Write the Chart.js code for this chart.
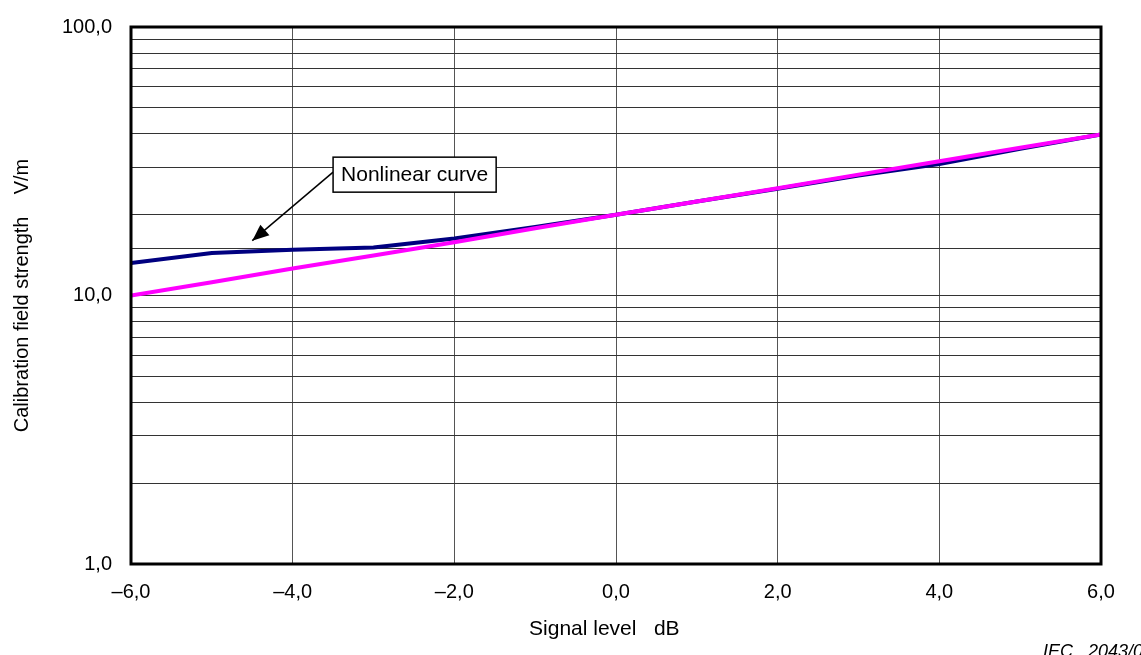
<!DOCTYPE html>
<html>
<head>
<meta charset="utf-8">
<script src="https://cdn.jsdelivr.net/npm/chart.js@4/dist/chart.umd.min.js"></script>
<style>
  html, body { margin: 0; padding: 0; background: #fff; }
  #wrap { width: 1141px; height: 655px; position: relative; }
</style>
</head>
<body>
<div id="wrap"><canvas id="calChart"></canvas></div>
<script>
// signal level (dB)
const signalLevels = [-6, -5, -4, -3, -2, -1, 0, 1, 2, 3, 4, 5, 6];
// measured (nonlinear) calibration field strength, V/m
const nonlinearValues = [13.2, 14.4, 14.8, 15.1, 16.3, 18.0, 20.0, 22.4, 25.0, 28.0, 30.9, 35.2, 39.8];
// ideal linear response, V/m
const linearValues = [10.0, 11.2, 12.6, 14.1, 15.8, 17.8, 20.0, 22.4, 25.1, 28.2, 31.6, 35.5, 39.8];
// labelled y ticks
const yTickLabels = [1, 10, 100];

// annotation: label box anchor and arrow tip (data coordinates)
const noteText = 'Nonlinear curve';
const noteLineStart = { x: -3.5, y: 28.8 };
const noteArrowTip = { x: -4.5, y: 16.0 };

function fmt(v) {
    return v.toFixed(1).replace('.', ',').replace('-', '\u2013');
}

const frameAndNotes = {
    id: 'frameAndNotes',
    afterDraw(chart) {
        const { ctx, chartArea: a, scales } = chart;
        ctx.save();
        // plot frame
        ctx.strokeStyle = '#000';
        ctx.lineWidth = 3;
        ctx.strokeRect(a.left, a.top, a.right - a.left, a.bottom - a.top);

        // annotation arrow
        const x0 = scales.x.getPixelForValue(noteLineStart.x);
        const y0 = scales.y.getPixelForValue(noteLineStart.y);
        const x1 = scales.x.getPixelForValue(noteArrowTip.x);
        const y1 = scales.y.getPixelForValue(noteArrowTip.y);
        ctx.lineWidth = 1.5;
        ctx.beginPath();
        ctx.moveTo(x0, y0);
        ctx.lineTo(x1, y1);
        ctx.stroke();
        const ang = Math.atan2(y1 - y0, x1 - x0);
        const len = 18, half = 0.4;
        ctx.fillStyle = '#000';
        ctx.beginPath();
        ctx.moveTo(x1, y1);
        ctx.lineTo(x1 - len * Math.cos(ang - half), y1 - len * Math.sin(ang - half));
        ctx.lineTo(x1 - len * Math.cos(ang + half), y1 - len * Math.sin(ang + half));
        ctx.closePath();
        ctx.fill();

        // annotation label box
        ctx.font = '21px "Liberation Sans", Arial, sans-serif';
        const tw = ctx.measureText(noteText).width;
        const bx = x0, bh = 35, by = y0 - 15;
        ctx.fillStyle = '#fff';
        ctx.fillRect(bx, by, tw + 16, bh);
        ctx.lineWidth = 1.5;
        ctx.strokeRect(bx, by, tw + 16, bh);
        ctx.fillStyle = '#000';
        ctx.textBaseline = 'middle';
        ctx.fillText(noteText, bx + 8, by + bh / 2 + 1);

        // figure reference
        ctx.font = 'italic 18px "Liberation Sans", Arial, sans-serif';
        ctx.textBaseline = 'alphabetic';
        ctx.fillText('IEC   2043/07', 1043, 657);
        ctx.restore();
    }
};

const ctxCal = document.getElementById('calChart').getContext('2d');
new Chart(ctxCal, {
    type: 'line',
    data: {
        labels: signalLevels,
        datasets: [{
            label: 'Linear',
            data: signalLevels.map((x, i) => ({ x: x, y: linearValues[i] })),
            borderColor: '#ff00ff',
            borderWidth: 4,
            pointRadius: 0,
            tension: 0,
            order: 0
        }, {
            label: 'Nonlinear curve',
            data: signalLevels.map((x, i) => ({ x: x, y: nonlinearValues[i] })),
            borderColor: '#000080',
            borderWidth: 4,
            pointRadius: 0,
            tension: 0,
            order: 1
        }]
    },
    options: {
        responsive: true,
        maintainAspectRatio: false,
        animation: false,
        layout: { autoPadding: false, padding: { top: 27, right: 40, left: 0, bottom: 0 } },
        scales: {
            x: {
                type: 'linear',
                min: -6,
                max: 6,
                afterFit: function (scale) { scale.height = 91; },
                grid: { color: '#555', lineWidth: 1, drawTicks: false },
                border: { display: false },
                ticks: {
                    stepSize: 2,
                    padding: 16,
                    color: '#000',
                    font: { family: '"Liberation Sans", Arial, sans-serif', size: 20 },
                    callback: function (value) { return fmt(value); }
                },
                title: {
                    display: true,
                    text: 'Signal level   dB    ',
                    color: '#000',
                    padding: { bottom: 13 },
                    font: { family: '"Liberation Sans", Arial, sans-serif', size: 21 }
                }
            },
            y: {
                type: 'logarithmic',
                min: 1,
                max: 100,
                afterFit: function (scale) {
                    scale.width = 131;
                    scale.paddingTop = 0;
                    scale.paddingBottom = 0;
                },
                grid: { color: '#333', lineWidth: 1, drawTicks: false },
                border: { display: false },
                ticks: {
                    autoSkip: false,
                    padding: 19,
                    color: '#000',
                    font: { family: '"Liberation Sans", Arial, sans-serif', size: 20 },
                    callback: function (value) {
                        return yTickLabels.includes(value) ? fmt(value) : '';
                    }
                },
                title: {
                    display: true,
                    text: 'Calibration field strength    V/m',
                    color: '#000',
                    padding: { top: 10 },
                    font: { family: '"Liberation Sans", Arial, sans-serif', size: 20 }
                }
            }
        },
        plugins: {
            legend: { display: false },
            tooltip: { enabled: false }
        }
    },
    plugins: [frameAndNotes]
});
</script>
</body>
</html>
